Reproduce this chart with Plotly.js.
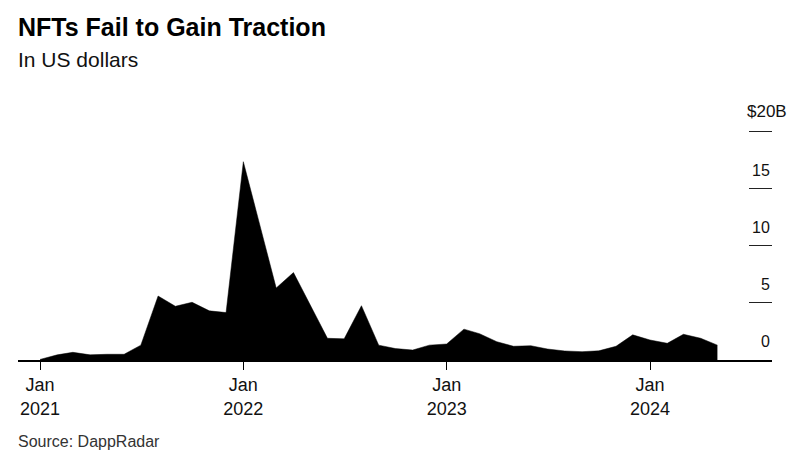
<!DOCTYPE html>
<html>
<head>
<meta charset="utf-8">
<script src="https://cdn.plot.ly/plotly-3.0.1.min.js"></script>
<style>
  html, body { margin: 0; padding: 0; background: #fff; }
  #chart { width: 808px; height: 467px; }
</style>
</head>
<body>
<div id="chart"></div>
<script>
// Monthly NFT trading volume (US$ billions)
const months = [
  '2021-01-01','2021-02-01','2021-03-01','2021-04-01','2021-05-01','2021-06-01',
  '2021-07-01','2021-08-01','2021-09-01','2021-10-01','2021-11-01','2021-12-01',
  '2022-01-01','2022-02-01','2022-03-01','2022-04-01','2022-05-01','2022-06-01',
  '2022-07-01','2022-08-01','2022-09-01','2022-10-01','2022-11-01','2022-12-01',
  '2023-01-01','2023-02-01','2023-03-01','2023-04-01','2023-05-01','2023-06-01',
  '2023-07-01','2023-08-01','2023-09-01','2023-10-01','2023-11-01','2023-12-01',
  '2024-01-01','2024-02-01','2024-03-01','2024-04-01','2024-05-01'
];
const volumeB = [
  0.05, 0.45, 0.67, 0.45, 0.5, 0.5,
  1.3, 5.6, 4.7, 5.05, 4.3, 4.15,
  17.35, 11.6, 6.3, 7.65, 4.8, 1.9,
  1.85, 4.75, 1.3, 1.0, 0.87, 1.3,
  1.4, 2.7, 2.3, 1.6, 1.2, 1.25,
  0.96, 0.79, 0.73, 0.8, 1.2, 2.2,
  1.75, 1.46, 2.25, 1.9, 1.3
];
const xTickVals = ['2021-01-01','2022-01-01','2023-01-01','2024-01-01'];
const xTickText = ['Jan<br>2021','Jan<br>2022','Jan<br>2023','Jan<br>2024'];
const yTickVals = [0, 5, 10, 15, 20];
const yTickText = ['0', '5', '10', '15', '$20B'];

const FONT = 'Liberation Sans, Arial, sans-serif';

const trace = {
  type: 'scatter',
  mode: 'lines',
  x: months,
  y: volumeB,
  fill: 'tozeroy',
  fillcolor: '#000000',
  line: { color: '#000000', width: 0.5 },
  hoverinfo: 'skip'
};

const annotations = yTickVals.map((v, i) => {
  const last = i === yTickVals.length - 1;
  return {
    xref: 'paper', yref: 'y',
    x: 1, y: v,
    xanchor: 'right', yanchor: 'bottom',
    xshift: last ? 17 : 0,
    yshift: 8,
    text: yTickText[i],
    showarrow: false,
    font: { family: FONT, size: last ? 17 : 16, color: '#111111' }
  };
});

annotations.push({
  xref: 'paper', yref: 'paper',
  x: 0, y: (360 - 59) / 240,
  xanchor: 'left', yanchor: 'middle',
  xshift: -2,
  text: 'In US dollars',
  showarrow: false,
  font: { family: FONT, size: 21, color: '#111111' }
});
annotations.push({
  xref: 'paper', yref: 'paper',
  x: 0, y: (360 - 441) / 240,
  xanchor: 'left', yanchor: 'middle',
  xshift: -2,
  text: 'Source: DappRadar',
  showarrow: false,
  font: { family: FONT, size: 16, color: '#333333' }
});

const layout = {
  width: 808,
  height: 467,
  margin: { l: 18, r: 36, t: 120, b: 107, pad: 0 },
  paper_bgcolor: '#ffffff',
  plot_bgcolor: '#ffffff',
  showlegend: false,
  title: {
    text: '<b>NFTs Fail to Gain Traction</b>',
    x: 18 / 808, xref: 'container', xanchor: 'left',
    y: 1 - 27 / 467, yref: 'container', yanchor: 'middle',
    font: { family: FONT, size: 25, color: '#000000' }
  },
  xaxis: {
    type: 'date',
    range: ['2020-11-22 12:00', '2024-08-07'],
    showgrid: false,
    zeroline: false,
    showline: true,
    linecolor: '#000000',
    linewidth: 1.5,
    ticks: 'outside',
    ticklen: 8,
    tickwidth: 1,
    tickcolor: '#000000',
    tickvals: xTickVals,
    ticktext: xTickText,
    tickfont: { family: FONT, size: 18, color: '#111111' },
    fixedrange: true
  },
  yaxis: {
    range: [0, 21],
    side: 'right',
    showgrid: false,
    zeroline: false,
    showline: false,
    ticks: 'inside',
    ticklen: 23,
    tickwidth: 1.2,
    tickcolor: '#222222',
    tickvals: yTickVals,
    showticklabels: false,
    fixedrange: true
  },
  annotations: annotations
};

Plotly.newPlot('chart', [trace], layout, { displayModeBar: false, staticPlot: true });
</script>
</body>
</html>
